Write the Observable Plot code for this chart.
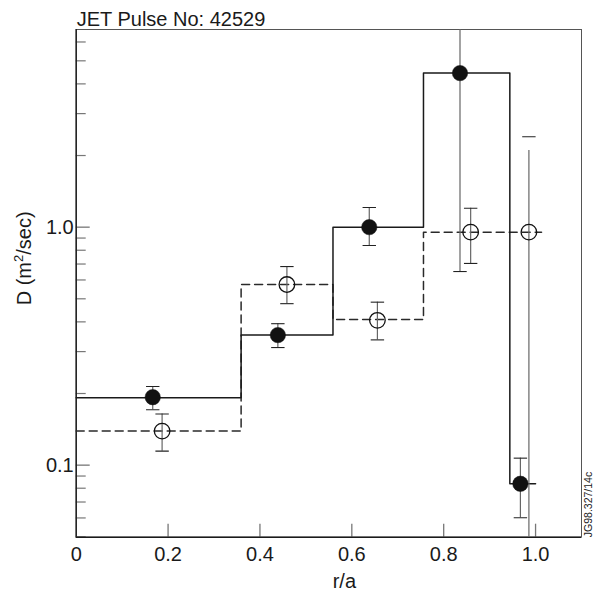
<!DOCTYPE html>
<html>
<head>
<meta charset="utf-8">
<script src="https://cdn.jsdelivr.net/npm/d3@7"></script>
<script src="https://cdn.jsdelivr.net/npm/@observablehq/plot@0.6"></script>
<style>
  html, body { margin: 0; padding: 0; background: #fff; }
  #chart svg { display: block; }
</style>
</head>
<body>
<div id="chart"></div>
<script>
// Step profiles: bin edges and levels
const solidEdges = [0, 0.359, 0.559, 0.756, 0.944, 1.0];
const solidLevels = [0.192, 0.352, 1.0, 4.44, 0.0835];
const dashedEdges = [0, 0.359, 0.559, 0.756, 1.013];
const dashedLevels = [0.139, 0.574, 0.409, 0.953];

// Filled circles with error bars
const filledX = [0.1666, 0.439, 0.638, 0.8355, 0.967];
const filledD = [0.193, 0.352, 1.0, 4.44, 0.0835];
const filledLo = [0.171, 0.312, 0.838, 0.651, 0.0601];
const filledHi = [0.214, 0.393, 1.21, 10, 0.107];

// Open circles with error bars
const openX = [0.187, 0.4587, 0.6557, 0.8587, 0.9855];
const openD = [0.139, 0.574, 0.406, 0.953, 0.953];
const openLo = [0.1145, 0.477, 0.336, 0.704, 0.03];
const openHi = [0.164, 0.683, 0.484, 1.20, 2.40];
const openRuleTop = [0.164, 0.683, 0.484, 1.20, 2.10];

// Axis ticks
const xTicks = [0, 0.2, 0.4, 0.6, 0.8, 1.0];
const xTickLabels = ["0", "0.2", "0.4", "0.6", "0.8", "1.0"];
const yMajorTicks = [0.1, 1.0];
const yTickLabels = ["0.1", "1.0"];
const yMinorTicks = [0.05, 0.06, 0.07, 0.08, 0.09, 0.2, 0.3, 0.4, 0.5, 0.6, 0.7, 0.8, 0.9, 2, 3, 4, 5, 6];

const titleText = "JET Pulse No: 42529";
const yLabel = "D (m2/sec)";
const xLabel = "r/a";
const refText = "JG98.327/14c";

const steps = (edges, levels) => edges.map((x, i) => ({x, y: levels[Math.min(i, levels.length - 1)]}));
const filled = filledX.map((x, i) => ({x, d: filledD[i], lo: filledLo[i], hi: filledHi[i]}));
const open = openX.map((x, i) => ({x, d: openD[i], lo: openLo[i], hi: openHi[i], top: openRuleTop[i]}));

const W = 597, H = 592;
const mL = 75.7, mR = 16, mT = 29, mB = 55.3;
const plotW = W - mL - mR, plotH = H - mT - mB;

const cap = {draw(ctx, size) { const r = Math.sqrt(size / Math.PI); ctx.moveTo(-r, 0); ctx.lineTo(r, 0); }};
const FONT = "'Liberation Sans', Arial, Helvetica, sans-serif";
const ink = "#1a1a1a";

const chart = Plot.plot({
  width: W, height: H,
  marginLeft: mL, marginRight: mR, marginTop: mT, marginBottom: mB,
  style: {fontFamily: FONT, fontSize: "20px", color: ink, background: "#fff"},
  x: {domain: [0, 1.1], axis: null},
  y: {type: "log", domain: [0.0498, 6.77], axis: null},
  marks: [
    Plot.frame({stroke: "#555", strokeWidth: 1}),
    // ticks (inward)
    Plot.tickX(xTicks.slice(1), {x: d => d, insetTop: plotH - 13, stroke: "#777", strokeWidth: 1.3}),
    Plot.tickY(yMajorTicks, {y: d => d, insetRight: plotW - 14, stroke: "#777", strokeWidth: 1.3}),
    Plot.tickY(yMinorTicks, {y: d => d, insetRight: plotW - 10, stroke: "#777", strokeWidth: 1.2}),
    // tick labels
    Plot.text(xTicks, {x: d => d, text: (d, i) => xTickLabels[i], frameAnchor: "bottom", dy: 10, lineAnchor: "top", textAnchor: "middle", fontSize: 20, fill: ink}),
    Plot.text(yMajorTicks, {y: d => d, text: (d, i) => yTickLabels[i], frameAnchor: "left", dx: -2.5, textAnchor: "end", lineAnchor: "middle", fontSize: 20, fill: ink}),
    Plot.ruleX([0], {stroke: ink, strokeWidth: 1.4}),
    Plot.ruleY([0.0498], {stroke: ink, strokeWidth: 1.4}),

    // step profiles
    Plot.line(steps(dashedEdges, dashedLevels), {x: "x", y: "y", curve: "step-after", stroke: "#2a2a2a", strokeWidth: 1.5, strokeDasharray: "8,5"}),
    Plot.line(steps(solidEdges, solidLevels), {x: "x", y: "y", curve: "step-after", stroke: "#1a1a1a", strokeWidth: 1.5}),

    // error bars
    Plot.ruleX(filled, {x: "x", y1: "lo", y2: "hi", stroke: "#666", strokeWidth: 1.2, clip: true}),
    Plot.ruleX(open, {x: "x", y1: "lo", y2: "top", stroke: "#666", strokeWidth: 1.2, clip: true}),
    Plot.dot(filled, {x: "x", y: "lo", symbol: cap, r: 6.7, stroke: "#222", strokeWidth: 1.1, clip: true}),
    Plot.dot(filled, {x: "x", y: "hi", symbol: cap, r: 6.7, stroke: "#222", strokeWidth: 1.1, clip: true}),
    Plot.dot(open, {x: "x", y: "lo", symbol: cap, r: 6.7, stroke: "#222", strokeWidth: 1.1, clip: true}),
    Plot.dot(open, {x: "x", y: "hi", symbol: cap, r: 6.7, stroke: "#222", strokeWidth: 1.1, clip: true}),

    // points
    Plot.dot(open, {x: "x", y: "d", r: 7.8, fill: "none", stroke: "#111", strokeWidth: 1.3}),
    Plot.dot(filled, {x: "x", y: "d", r: 7.7, fill: "#111", stroke: "#111", strokeWidth: 0.5}),

    // texts
    Plot.text([titleText], {text: d => d, frameAnchor: "top-left", dx: 0.5, dy: -4, textAnchor: "start", lineAnchor: "bottom", fontSize: 20, fill: ink}),
    Plot.text([yLabel], {text: d => d, frameAnchor: "left", dx: -45.5, dy: -25, rotate: -90, textAnchor: "middle", lineAnchor: "bottom", fontSize: 20, fill: ink, className: "ylabel"}),
    Plot.text([xLabel], {text: d => d, frameAnchor: "bottom", dx: 15.5, dy: 50.5, textAnchor: "middle", lineAnchor: "bottom", fontSize: 20, fill: ink}),
    Plot.text([refText], {text: d => d, frameAnchor: "bottom-right", dx: 10.5, dy: 0, rotate: -90, textAnchor: "start", lineAnchor: "bottom", fontSize: 10.5, fill: ink})
  ]
});
document.getElementById("chart").appendChild(chart);

// Render the exponent in the y label as a superscript
chart.querySelectorAll("text").forEach(t => {
  if (t.textContent === yLabel) {
    const ns = "http://www.w3.org/2000/svg";
    const host = t.querySelector("tspan") || t;
    host.textContent = "";
    const a = document.createElementNS(ns, "tspan"); a.textContent = "D (m";
    const s = document.createElementNS(ns, "tspan"); s.textContent = "2";
    s.setAttribute("font-size", "13"); s.setAttribute("dy", "-8");
    const b = document.createElementNS(ns, "tspan"); b.textContent = "/sec)";
    b.setAttribute("dy", "8");
    host.appendChild(a); host.appendChild(s); host.appendChild(b);
  }
});
</script>
</body>
</html>
